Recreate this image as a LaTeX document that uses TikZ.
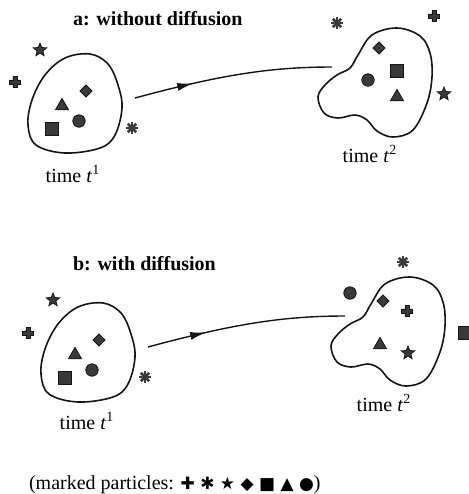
\documentclass[tikz,border=0pt]{standalone}
\usepackage{fontspec}
\setmainfont{Liberation Serif}
\newfontfamily\symfont{DejaVu Sans}
\usetikzlibrary{arrows.meta,shapes.geometric,decorations.markings}
\definecolor{ink}{HTML}{141414}
\definecolor{particlegray}{HTML}{3A3A3A}
\tikzset{
  particle/.style={
    fill=particlegray,
    draw=ink,
    line width=0.4pt,
    inner sep=0pt,
    outer sep=0pt
  },
  sqm/.style={particle, rectangle, minimum size=6.3pt},
  dotm/.style={particle, circle, minimum size=6.2pt},
  trim/.style={particle, regular polygon, regular polygon sides=3, minimum size=7.6pt},
  diam/.style={particle, diamond, minimum size=6pt},
  starm/.style={particle, star, star points=5, star point ratio=2.3, minimum size=7pt},
  pics/crossm/.style={code={
    \filldraw[fill=particlegray, draw=ink, line width=0.3pt]
      (-1.1pt,2.8pt) -- (1.1pt,2.8pt) -- (1.1pt,1.1pt) -- (2.8pt,1.1pt)
      -- (2.8pt,-1.1pt) -- (1.1pt,-1.1pt) -- (1.1pt,-2.8pt) -- (-1.1pt,-2.8pt)
      -- (-1.1pt,-1.1pt) -- (-2.8pt,-1.1pt) -- (-2.8pt,1.1pt) -- (-1.1pt,1.1pt) -- cycle;
  }},
  pics/astm/.style={code={
    \foreach \k in {0,45,90,135}
      \draw[particlegray, line width=1.3pt] (\k:3pt) -- (\k+180:3pt);
  }},
  region/.style={
    draw=ink,
    line width=0.8pt
  },
  flow/.style={
    draw=ink,
    line width=0.7pt,
    postaction={decorate},
    decoration={markings,
      mark=at position 0.3 with {\arrow{Latex[length=8pt,width=4pt]}}}
  },
  heading/.style={
    anchor=base west,
    font=\bfseries\fontsize{10}{12}\selectfont
  },
  caption/.style={
    anchor=base,
    font=\fontsize{10}{12}\selectfont
  }
}

\begin{document}
\begin{tikzpicture}[x=0.5pt, y=-0.5pt]
  \useasboundingbox (0,0) rectangle (469,494);

  % a: without diffusion
  \node[heading] (titlea) at (66,25) {a: without diffusion};

  \draw[region] plot[smooth cycle, tension=0.6] coordinates
    {(90,54) (108,64) (118,85) (122,108) (115,135) (100,148) (65,153)
     (36,145) (28,125) (32,100) (45,75) (65,58)};
  \node[starm] (astar) at (40,50) {};
  \pic (across) at (15,82) {crossm};
  \node[trim] (atri) at (62,106) {};
  \node[diam] (adia) at (86,91) {};
  \node[dotm] (adot) at (79,121) {};
  \node[sqm] (asq) at (52,129) {};
  \pic (aast) at (132,128) {astm};
  \node[caption] (timea1) at (73,182) {time \textit{t}\textsuperscript{1}};

  \draw[region] plot[smooth cycle, tension=0.6] coordinates
    {(397,28) (420,36) (430,53) (432,77) (427,103) (413,130) (393,137)
     (377,131) (367,120) (355,115) (338,118) (324,113) (318,97) (325,85)
     (337,75) (350,68) (358,55) (372,35)};
  \pic (bast0) at (337,23) {astm};
  \pic (bcross0) at (434,16) {crossm};
  \node[diam] (bdia0) at (379,48) {};
  \node[sqm] (bsq0) at (397,71) {};
  \node[dotm] (bdot0) at (368,80) {};
  \node[trim] (btri0) at (397,97) {};
  \node[starm] (bstar0) at (444,94) {};
  \node[caption] (timea2) at (370,162) {time \textit{t}\textsuperscript{2}};

  \coordinate (outa) at (135,98);
  \coordinate (ina) at (332,67);
  \draw[flow] (outa) .. controls (220,75) and (270,67) .. (ina);

  % b: with diffusion
  \node[heading] (titleb) at (66,270) {b: with diffusion};

  \draw[region, shift={(13,249)}] plot[smooth cycle, tension=0.6] coordinates
    {(90,54) (108,64) (118,85) (122,108) (115,135) (100,148) (65,153)
     (36,145) (28,125) (32,100) (45,75) (65,58)};
  \node[starm] (cstar) at (53,300) {};
  \pic (ccross) at (28,333) {crossm};
  \node[trim] (ctri) at (75,355) {};
  \node[diam] (cdia) at (99,340) {};
  \node[dotm] (cdot) at (92,370) {};
  \node[sqm] (csq) at (65,378) {};
  \pic (cast) at (145,377) {astm};
  \node[caption] (timeb1) at (87,429) {time \textit{t}\textsuperscript{1}};

  \draw[region, shift={(13,249)}] plot[smooth cycle, tension=0.6] coordinates
    {(397,28) (420,36) (430,53) (432,77) (427,103) (413,130) (393,137)
     (377,131) (367,120) (355,115) (338,118) (324,113) (318,97) (325,85)
     (337,75) (350,68) (358,55) (372,35)};
  \pic (dast) at (403,262) {astm};
  \node[dotm] (ddot) at (350,293) {};
  \node[diam] (ddia) at (383,301) {};
  \pic (dcross) at (407,311) {crossm};
  \node[trim] (dtri) at (380,345) {};
  \node[starm] (dstar) at (408,353) {};
  \node[sqm] (dsq) at (465,333) {};
  \node[caption] (timeb2) at (384,411) {time \textit{t}\textsuperscript{2}};

  \coordinate (outb) at (148,347);
  \coordinate (inb) at (345,316);
  \draw[flow] (outb) .. controls (233,324) and (283,316) .. (inb);

  % legend
  \node[anchor=base west, font=\fontsize{10}{12}\selectfont] (legend) at (22,489)
    {(marked particles: {\symfont\fontsize{8.5}{10}\selectfont ✚ ✱ ★ ◆ ■ ▲ ●})};
\end{tikzpicture}
\end{document}
